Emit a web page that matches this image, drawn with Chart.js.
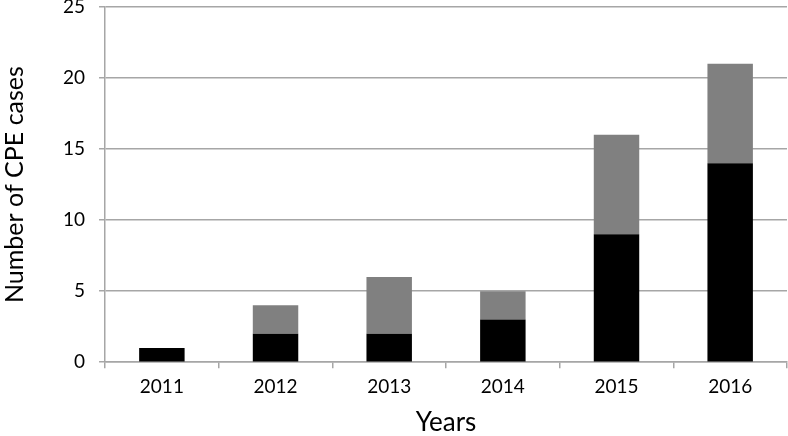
<!DOCTYPE html>
<html>
<head>
<meta charset="utf-8">
<script src="https://cdn.jsdelivr.net/npm/chart.js@4"></script>
<style>
  html, body { margin: 0; padding: 0; background: #fff; }
  #wrap { width: 788px; height: 436px; }
</style>
</head>
<body>
<div id="wrap"><canvas id="cpeChart" width="788" height="436"></canvas></div>
<script>
// Chart data
const years = ["2011", "2012", "2013", "2014", "2015", "2016"];
const blackCases = [1, 2, 2, 3, 9, 14];
const grayCases = [0, 2, 4, 2, 7, 7];

const gridGray = "#a6a6a6";
const fontFamily = "Lato, 'Open Sans', sans-serif";

const ctx = document.getElementById("cpeChart").getContext("2d");
new Chart(ctx, {
  type: "bar",
  data: {
    labels: years,
    datasets: [
      {
        label: "Black",
        data: blackCases,
        backgroundColor: "#000000",
        borderWidth: 0,
        categoryPercentage: 1,
        barPercentage: 0.4
      },
      {
        label: "Gray",
        data: grayCases,
        backgroundColor: "#808080",
        borderWidth: 0,
        categoryPercentage: 1,
        barPercentage: 0.4
      }
    ]
  },
  options: {
    responsive: false,
    animation: false,
    layout: { padding: { left: 0, right: 1, top: 7, bottom: 0 } },
    plugins: {
      legend: { display: false },
      tooltip: { enabled: false }
    },
    scales: {
      x: {
        stacked: true,
        grid: {
          display: true,
          offset: true,
          drawOnChartArea: false,
          drawTicks: true,
          tickLength: 6,
          color: gridGray,
          lineWidth: 1.5
        },
        border: { display: true, color: gridGray, width: 1.5 },
        ticks: {
          color: "#000",
          font: { family: fontFamily, size: 19 },
          padding: 7
        },
        title: {
          display: true,
          text: "Years",
          color: "#000",
          font: { family: fontFamily, size: 26, lineHeight: 1 },
          padding: { top: 5, bottom: 0 }
        }
      },
      y: {
        stacked: true,
        min: 0,
        max: 25,
        afterFit: (scale) => { scale.paddingTop = 0; },
        ticks: {
          stepSize: 5,
          color: "#000",
          font: { family: fontFamily, size: 19 },
          padding: 14
        },
        grid: {
          color: gridGray,
          lineWidth: 1.5,
          tickLength: 6
        },
        border: { display: true, color: gridGray, width: 1.5 },
        title: {
          display: true,
          text: "Number of CPE cases",
          color: "#000",
          font: { family: fontFamily, size: 25 },
          padding: { top: 0, bottom: 19 }
        }
      }
    }
  }
});
</script>
</body>
</html>
